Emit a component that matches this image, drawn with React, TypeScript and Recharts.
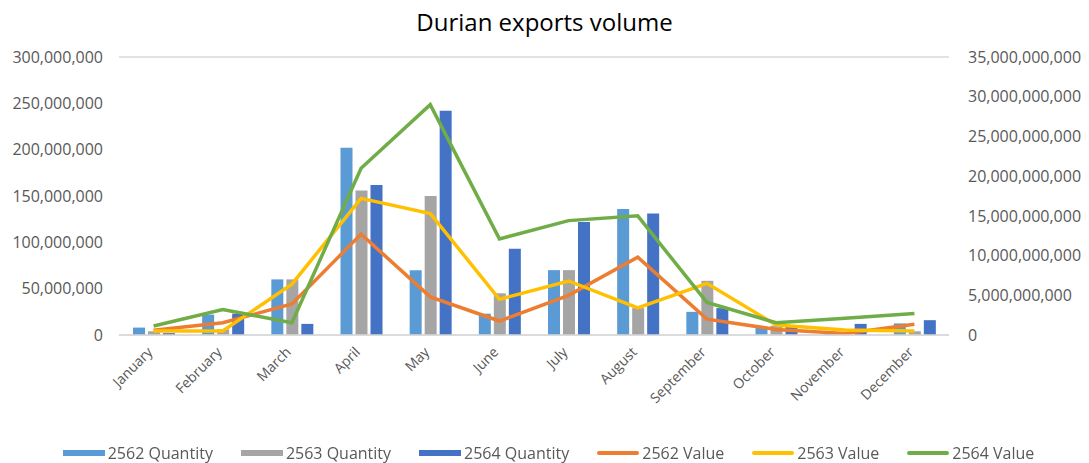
import {
  Bar,
  CartesianGrid,
  ComposedChart,
  Legend,
  Line,
  XAxis,
  YAxis,
} from "recharts";

const months = [
  "January", "February", "March", "April", "May", "June",
  "July", "August", "September", "October", "November", "December",
];

// quantities (left axis)
const qty2562 = [8e6, 22e6, 60e6, 202e6, 70e6, 23e6, 70e6, 136e6, 25e6, 9e6, 1e6, 12.5e6];
const qty2563 = [4e6, 6e6, 60e6, 156e6, 150e6, 45e6, 70e6, 29e6, 58.5e6, 10e6, 1e6, 4e6];
const qty2564 = [2e6, 23e6, 12e6, 162e6, 242e6, 93e6, 122e6, 131e6, 29e6, 10e6, 12e6, 16e6];

// values (right axis)
const val2562 = [0.6e9, 1.55e9, 3.9e9, 12.7e9, 4.8e9, 1.76e9, 5.0e9, 9.8e9, 2.0e9, 0.7e9, 0.2e9, 1.35e9];
const val2563 = [0.5e9, 0.5e9, 6.4e9, 17.2e9, 15.3e9, 4.5e9, 6.8e9, 3.4e9, 6.5e9, 1.26e9, 0.63e9, 0.5e9];
const val2564 = [1.13e9, 3.2e9, 1.55e9, 21e9, 29e9, 12.1e9, 14.4e9, 15e9, 4.1e9, 1.55e9, 2.1e9, 2.7e9];

const leftTicks = [0, 50e6, 100e6, 150e6, 200e6, 250e6, 300e6];
const rightTicks = [0, 5e9, 10e9, 15e9, 20e9, 25e9, 30e9, 35e9];

const data = months.map((m, i) => ({
  month: m,
  q2562: qty2562[i],
  q2563: qty2563[i],
  q2564: qty2564[i],
  v2562: val2562[i],
  v2563: val2563[i],
  v2564: val2564[i],
}));

const FONT = "'Open Sans', 'Liberation Sans', sans-serif";
const TEXT = "#595959";

const legendItems = [
  { label: "2562 Quantity", color: "#5B9BD5", type: "bar" },
  { label: "2563 Quantity", color: "#A5A5A5", type: "bar" },
  { label: "2564 Quantity", color: "#4472C4", type: "bar" },
  { label: "2562 Value", color: "#ED7D31", type: "line" },
  { label: "2563 Value", color: "#FFC000", type: "line" },
  { label: "2564 Value", color: "#70AD47", type: "line" },
];

const fmt = (v: number) => v.toLocaleString("en-US");

function MonthTick({ x, y, payload }: any) {
  return (
    <text
      x={x}
      y={y}
      dy={10}
      transform={`rotate(-45 ${x} ${y + 10})`}
      textAnchor="end"
      fill={TEXT}
      fontSize={14}
      fontFamily={FONT}
    >
      {payload.value}
    </text>
  );
}

function ChartLegend() {
  return (
    <div
      style={{
        display: "flex",
        justifyContent: "center",
        gap: 28,
        fontFamily: FONT,
        fontSize: 16,
        color: TEXT,
        lineHeight: "20px",
        paddingLeft: 8,
      }}
    >
      {legendItems.map((it) => (
        <div key={it.label} style={{ display: "flex", alignItems: "center" }}>
          <span
            style={{
              display: "inline-block",
              width: 42,
              height: it.type === "bar" ? 6 : 4,
              borderRadius: it.type === "bar" ? 0 : 2,
              background: it.color,
              marginRight: 3,
            }}
          />
          {it.label}
        </div>
      ))}
    </div>
  );
}

export default function App() {
  return (
    <div
      style={{
        position: "fixed",
        left: 0,
        top: 0,
        width: 1089,
        height: 463,
        background: "#fff",
      }}
    >
      <div
        style={{
          position: "absolute",
          top: 5,
          width: 1089,
          textAlign: "center",
          fontFamily: FONT,
          fontSize: 24,
          color: "#000",
        }}
      >
        Durian exports volume
      </div>
      <ComposedChart
        width={1089}
        height={463}
        data={data}
        margin={{ top: 57, right: 0, bottom: 0, left: 0 }}
        barGap={3}
        barSize={12}
      >
        <CartesianGrid vertical={false} stroke="#D9D9D9" strokeWidth={1.5} />
        <XAxis
          dataKey="month"
          tick={<MonthTick />}
          tickLine={false}
          axisLine={{ stroke: "#D9D9D9", strokeWidth: 1.5 }}
          interval={0}
          height={108}
        />
        <YAxis
          yAxisId="left"
          domain={[0, 300e6]}
          ticks={leftTicks}
          tickFormatter={fmt}
          tick={{ fill: TEXT, fontSize: 16, fontFamily: FONT }}
          axisLine={false}
          tickLine={false}
          tickMargin={10}
          width={119}
        />
        <YAxis
          yAxisId="right"
          orientation="right"
          domain={[0, 35e9]}
          ticks={rightTicks}
          tickFormatter={fmt}
          tick={{ fill: TEXT, fontSize: 16, fontFamily: FONT, textAnchor: "start" }}
          axisLine={false}
          tickLine={false}
          tickMargin={13}
          width={140}
        />
        <Legend content={<ChartLegend />} verticalAlign="bottom" height={20} />
        <Bar yAxisId="left" dataKey="q2562" name="2562 Quantity" fill="#5B9BD5" isAnimationActive={false} />
        <Bar yAxisId="left" dataKey="q2563" name="2563 Quantity" fill="#A5A5A5" isAnimationActive={false} />
        <Bar yAxisId="left" dataKey="q2564" name="2564 Quantity" fill="#4472C4" isAnimationActive={false} />
        <Line yAxisId="right" dataKey="v2562" name="2562 Value" stroke="#ED7D31" strokeWidth={3.5} dot={false} type="linear" isAnimationActive={false} />
        <Line yAxisId="right" dataKey="v2563" name="2563 Value" stroke="#FFC000" strokeWidth={3.5} dot={false} type="linear" isAnimationActive={false} />
        <Line yAxisId="right" dataKey="v2564" name="2564 Value" stroke="#70AD47" strokeWidth={3.5} dot={false} type="linear" isAnimationActive={false} />
      </ComposedChart>
    </div>
  );
}
